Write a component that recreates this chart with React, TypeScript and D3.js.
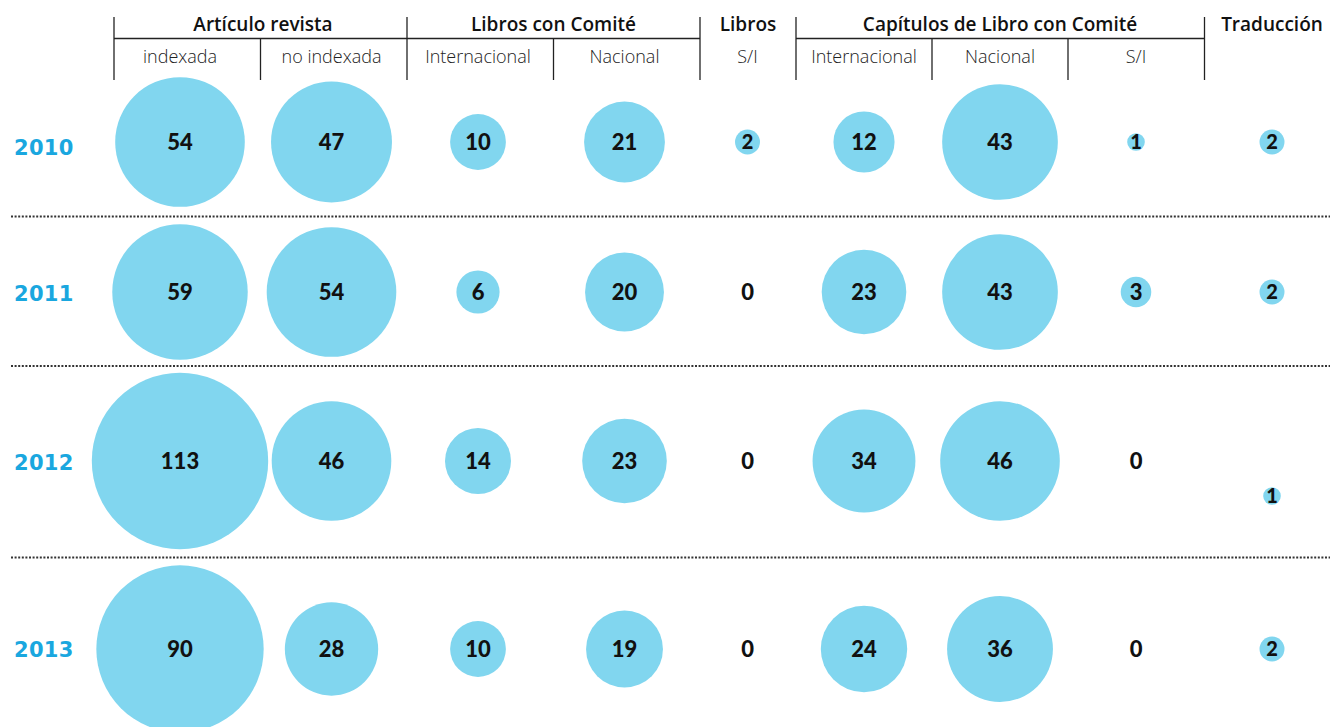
import React from "react";
import * as d3 from "d3";

const years = ["2010", "2011", "2012", "2013"];
const columns = ["indexada", "noIndexada", "librosIntl", "librosNac", "librosSI", "capIntl", "capNac", "capSI", "traduccion"];
const columnLabels = ["indexada", "no indexada", "Internacional", "Nacional", "S/I", "Internacional", "Nacional", "S/I", ""];
const groupLabels = ["Artículo revista", "Libros con Comité", "Libros", "Capítulos de Libro con Comité", "Traducción"];

const indexada = [54, 59, 113, 90];
const noIndexada = [47, 54, 46, 28];
const librosIntl = [10, 6, 14, 10];
const librosNac = [21, 20, 23, 19];
const librosSI = [2, 0, 0, 0];
const capIntl = [12, 23, 34, 24];
const capNac = [43, 43, 46, 36];
const capSI = [1, 3, 0, 0];
const traduccion = [2, 2, 1, 2];

const seriesValues = [indexada, noIndexada, librosIntl, librosNac, librosSI, capIntl, capNac, capSI, traduccion];

// layout
const W = 1330;
const H = 727;
const colX = [180, 331.5, 478, 624.5, 747.5, 864, 1000, 1136, 1272];
const rowY = [142, 292, 461, 649];
const yearLabelDy = [5.5, 1, 1, 0];
const outerSeparatorsX = [114, 407, 700, 796, 1204.5];
const innerSeparatorsX = [260.5, 553.5, 932, 1068];
const groupSpans: [number, number][] = [
  [114, 407],
  [407, 700],
  [796, 1204.5],
];
const groupCenterX = [263, 553.5, 748, 1000, 1272];
const rowDividers = [216.5, 366, 557.5];
const cellYOffset: Record<string, number> = { "2012|traduccion": 35 };

const BUBBLE = "#81d6ef";
const YEAR = "#1aa7df";
const INK = "#111";

export default function App() {
  const x = d3.scaleOrdinal<string, number>().domain(columns).range(colX);
  const y = d3.scaleOrdinal<string, number>().domain(years).range(rowY);
  const r = d3.scaleSqrt().domain([0, 100]).range([0, 88.2]).clamp(true);

  const cells = columns.flatMap((c, ci) =>
    years.map((yr, yi) => ({ col: c, year: yr, value: seriesValues[ci][yi] }))
  );

  const headerFont = "'Open Sans', 'Noto Sans', sans-serif";
  const numFont = "Lato, 'Open Sans', sans-serif";

  return (
    <svg
      width={W}
      height={H}
      style={{ position: "absolute", left: 0, top: 0, background: "#fff" }}
    >
      {/* header lines */}
      <g stroke="#222" strokeWidth={1.3}>
        {outerSeparatorsX.map((sx, i) => (
          <line key={"vo" + i} x1={sx} x2={sx} y1={17} y2={80} />
        ))}
        {innerSeparatorsX.map((sx, i) => (
          <line key={"vi" + i} x1={sx} x2={sx} y1={38.5} y2={80} />
        ))}
        {groupSpans.map((g, i) => (
          <line key={"h" + i} x1={g[0]} x2={g[1]} y1={38.5} y2={38.5} />
        ))}
      </g>
      {groupLabels.map((g, i) => (
        <text
          key={"g" + i}
          x={groupCenterX[i]}
          y={31}
          textAnchor="middle"
          fontFamily={headerFont}
          fontWeight={600}
          fontSize={19}
          fill={INK}
        >
          {g}
        </text>
      ))}
      {columns.map((c, i) => (
        <text
          key={"c" + i}
          x={x(c)}
          y={63}
          textAnchor="middle"
          fontFamily={headerFont}
          fontWeight={300}
          fontSize={18}
          fill="#222"
        >
          {columnLabels[i]}
        </text>
      ))}

      {/* dotted row dividers */}
      {rowDividers.map((dy, i) => (
        <line
          key={"d" + i}
          x1={11}
          x2={W}
          y1={dy}
          y2={dy}
          stroke="#333"
          strokeWidth={2}
          strokeDasharray="2 1.6"
        />
      ))}

      {/* year labels */}
      {years.map((yr, i) => (
        <text
          key={yr}
          x={14}
          y={(y(yr) as number) + yearLabelDy[i]}
          dy="0.36em"
          fontFamily="'DejaVu Sans', sans-serif"
          fontWeight={700}
          fontSize={21}
          letterSpacing={0.3}
          fill={YEAR}
        >
          {yr}
        </text>
      ))}

      {/* bubbles */}
      {cells.map((d) => {
        const cx = x(d.col) as number;
        const cy = (y(d.year) as number) + (cellYOffset[d.year + "|" + d.col] || 0);
        const small = d.value > 0 && d.value <= 2;
        return (
          <g key={d.col + d.year} transform={`translate(${cx},${cy})`}>
            {d.value > 0 && <circle r={r(d.value)} fill={BUBBLE} />}
            <text
              textAnchor="middle"
              dy="0.36em"
              fontFamily={numFont}
              fontWeight={900}
              fontSize={small ? 20 : 22}
              fill={INK}
            >
              {d.value}
            </text>
          </g>
        );
      })}
    </svg>
  );
}
